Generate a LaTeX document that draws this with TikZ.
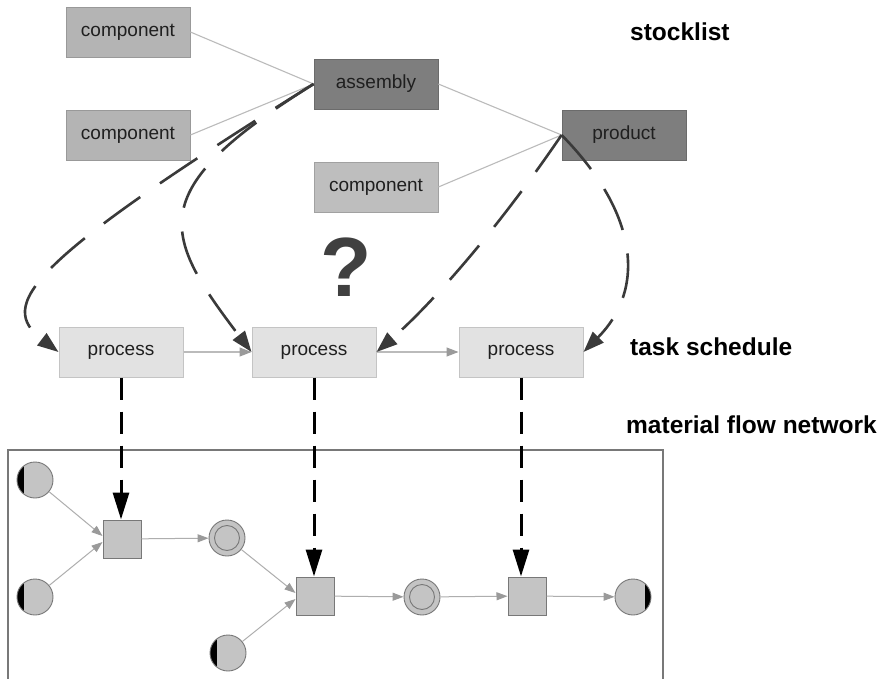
\documentclass[tikz,border=0pt]{standalone}
\usepackage{fontspec}
\setmainfont{Liberation Sans}
\usetikzlibrary{arrows.meta}
\definecolor{compfill}{HTML}{B4B4B4}
\definecolor{compfilllt}{HTML}{BEBEBE}
\definecolor{darkfill}{HTML}{7E7E7E}
\definecolor{procfill}{HTML}{E2E2E2}
\definecolor{procdraw}{HTML}{C4C4C4}
\definecolor{linegray}{HTML}{BBBBBB}
\definecolor{dashgray}{HTML}{3A3A3A}
\definecolor{netfill}{HTML}{C4C4C4}
\definecolor{netdraw}{HTML}{787878}
\definecolor{netarrow}{HTML}{9A9A9A}
\definecolor{qgray}{HTML}{404040}
\tikzset{
  boxbase/.style={rectangle, minimum width=124pt, minimum height=50pt, inner sep=0pt,
    font=\fontsize{19}{22}\selectfont, text=black!88},
  compbox/.style={boxbase, fill=compfill, draw=compfill!85!black, line width=0.8pt},
  compboxlt/.style={boxbase, fill=compfilllt, draw=compfilllt!85!black, line width=0.8pt},
  darkbox/.style={boxbase, fill=darkfill, draw=darkfill!85!black, line width=0.8pt},
  procbox/.style={boxbase, fill=procfill, draw=procdraw, line width=1pt},
  label/.style={anchor=base west, inner sep=0pt, font=\fontsize{24.5}{28}\selectfont\bfseries},
  trans/.style={rectangle, minimum size=38pt, inner sep=0pt, fill=netfill, draw=netdraw, line width=1pt},
  inplace/.style={circle, minimum size=36pt, inner sep=0pt, fill=netfill, draw=netdraw, line width=0.9pt,
    path picture={\fill[black, shift={(path picture bounding box.center)}] (-20,-20) rectangle (-11.5,20);}},
  outplace/.style={circle, minimum size=36pt, inner sep=0pt, fill=netfill, draw=netdraw, line width=0.9pt,
    path picture={\fill[black, shift={(path picture bounding box.center)}] (20,-20) rectangle (11.5,20);}},
  store/.style={circle, minimum size=36pt, inner sep=0pt, fill=netfill, draw=netdraw, line width=0.9pt,
    path picture={\draw[netdraw, line width=0.9pt] (path picture bounding box.center) circle[radius=12.5pt];}},
  thinline/.style={draw=linegray, line width=1.1pt},
  grayarrow/.style={draw=linegray, line width=1.1pt, -{Triangle[length=12pt, width=9pt, fill=netarrow, color=netarrow]}},
  netarr/.style={draw=netarrow!80!white, line width=1pt, -{Triangle[length=11pt, width=8pt, color=netarrow]}},
  bigdash/.style={draw=black, line width=3pt, dash pattern=on 22pt off 12pt, -{Triangle[length=27pt, width=16pt]}},
  curvedash/.style={draw=dashgray, line width=2.6pt, dash pattern=on 45pt off 24pt, -{Triangle[length=21pt, width=15pt]}}
}
\begin{document}
\begin{tikzpicture}[x=1pt, y=-1pt]
\useasboundingbox (0,0) rectangle (878,679);
\fill[white] (0,0) rectangle (878,679);

% stocklist boxes
\node[compbox] (c1) at (128,32) {component};
\node[compbox] (c2) at (128,135) {component};
\node[darkbox] (asm) at (376,84) {assembly};
\node[compboxlt] (c3) at (376,187) {component};
\node[darkbox] (prod) at (624,135) {product};

% task schedule boxes
\node[procbox] (p1) at (121,352) {process};
\node[procbox] (p2) at (314,352) {process};
\node[procbox] (p3) at (521,352) {process};

% labels
\node[label] (lstock) at (630,41) {stocklist};
\node[label] (ltask) at (630,355) {task schedule};
\node[label] (lmat) at (626,433) {material flow network};
\node[font=\fontsize{84}{90}\selectfont\bfseries, text=qgray, inner sep=0pt] (q) at (346,267) {?};

% network frame
\draw[netdraw, line width=1.5pt] (8,682) -- (8,450) -- (663,450) -- (663,682);

% network nodes
\node[inplace] (ia) at (35,480) {};
\node[inplace] (ib) at (35,597) {};
\node[trans] (t1) at (122,539) {};
\node[store] (s1) at (227,538) {};
\node[trans] (t2) at (315,596) {};
\node[inplace] (ic) at (228,653) {};
\node[store] (s2) at (422,597) {};
\node[trans] (t3) at (527,596) {};
\node[outplace] (od) at (633,597) {};

% stocklist lines
\draw[thinline] (c1.east) -- (asm.west);
\draw[thinline] (c2.east) -- (asm.west);
\draw[thinline] (asm.east) -- (prod.west);
\draw[thinline] (c3.east) -- (prod.west);

% process arrows
\draw[grayarrow] (p1.east) -- (p2.west);
\draw[grayarrow] (p2.east) -- (p3.west);

% network arrows
\draw[netarr] (ia) -- ([yshift=3pt]t1.west);
\draw[netarr] (ib) -- ([yshift=-3pt]t1.west);
\draw[netarr] (t1) -- (s1);
\draw[netarr] (s1) -- ([yshift=3pt]t2.west);
\draw[netarr] (ic) -- ([yshift=-3pt]t2.west);
\draw[netarr] (t2) -- (s2);
\draw[netarr] (s2) -- (t3);
\draw[netarr] (t3) -- (od);

% curved dashed mapping arrows
\draw[curvedash] (asm.west) .. controls (25,264) and (-3,305) .. (p1.west);
\draw[curvedash] (asm.west) .. controls (144,190) and (160,232) .. (p2.west);
\draw[curvedash] (prod.west) .. controls (490,240) and (425,310) .. (p2.east);
\draw[curvedash] (prod.west) .. controls (640,215) and (645,290) .. (p3.east);

% vertical dashed arrows
\draw[bigdash] (p1.south) -- (p1.south |- t1.north);
\draw[bigdash] (p2.south) -- (p2.south |- t2.north);
\draw[bigdash] (p3.south) -- (p3.south |- t3.north);
\end{tikzpicture}
\end{document}
